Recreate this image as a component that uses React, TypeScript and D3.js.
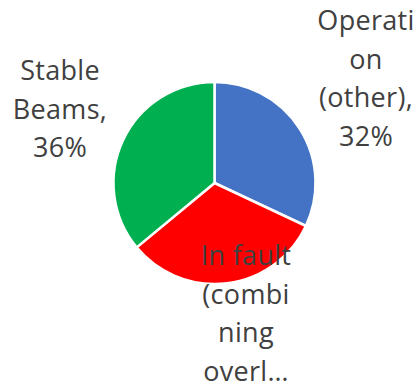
import React from "react";
import * as d3 from "d3";

const categories = ["Operation (other)", "In fault (combining overlaps)", "Stable Beams"];
const values = [32, 32, 36];
const colors = ["#4472C4", "#FF0000", "#00B050"];
const labelLines = [
  ["Operati", "on", "(other),", "32%"],
  ["In fault", "(combi", "ning", "overl\u2026"],
  ["Stable", "Beams,", "36%"],
];

// layout (label anchor: center x, first baseline y)
const labelAnchors: [number, number][] = [
  [366, 30],
  [246, 265],
  [60, 80],
];

const W = 417;
const H = 386;
const cx = 214.5;
const cy = 183;
const R = 101;
const lineH = 38.5;

export default function App() {
  const pie = d3.pie<number>().sort(null).value((d) => d)(values);
  const arc = d3.arc<d3.PieArcDatum<number>>().innerRadius(0).outerRadius(R);
  return (
    <svg
      width={W}
      height={H}
      style={{ position: "absolute", left: 0, top: 0 }}
      fontFamily="'Open Sans', sans-serif"
    >
      <rect width={W} height={H} fill="#fff" />
      <g transform={`translate(${cx},${cy})`}>
        {pie.map((p, i) => (
          <path key={categories[i]} d={arc(p) || ""} fill={colors[i]} stroke="#fff" strokeWidth={2.5} strokeLinejoin="round" />
        ))}
      </g>
      {labelLines.map((lines, i) => (
        <text key={i} textAnchor="middle" fontSize={27} fill="#404040" letterSpacing={0.3}>
          {lines.map((l, j) => (
            <tspan key={j} x={labelAnchors[i][0]} y={labelAnchors[i][1] + j * lineH}>
              {l}
            </tspan>
          ))}
        </text>
      ))}
    </svg>
  );
}
